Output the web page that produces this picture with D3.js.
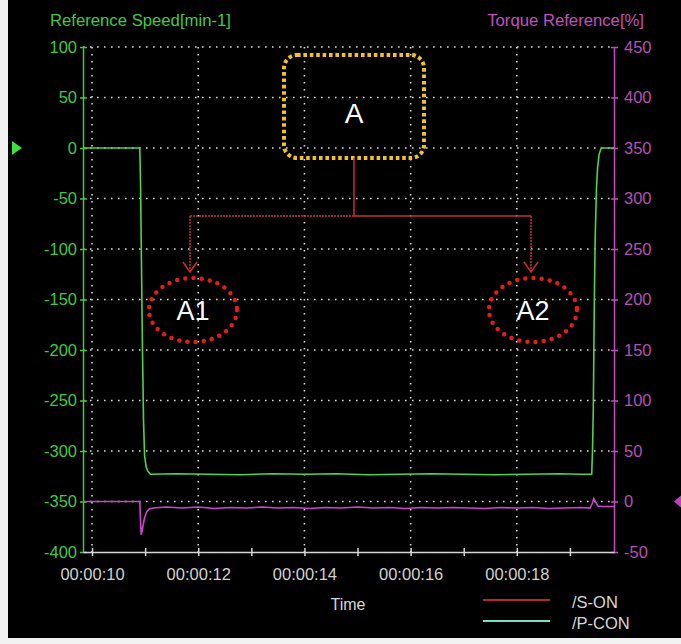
<!DOCTYPE html>
<html>
<head>
<meta charset="utf-8">
<script src="https://cdn.jsdelivr.net/npm/d3@7"></script>
<style>
  html, body { margin: 0; padding: 0; background: #f2f2f2; }
  svg { display: block; }
  text { font-family: "Liberation Sans", Arial, sans-serif; }
</style>
</head>
<body>
<svg id="chart" width="681" height="644"></svg>
<script>
// ---- data -------------------------------------------------------------
// time axis (seconds)
const timeDomain = [9.83, 19.83];
const timeTicks = [10, 11, 12, 13, 14, 15, 16, 17, 18, 19];
const timeLabelTicks = [10, 12, 14, 16, 18];

// left axis: reference speed [min-1]
const speedTicks = [100, 50, 0, -50, -100, -150, -200, -250, -300, -350, -400];
// right axis: torque reference [%]
const torqueTicks = [450, 400, 350, 300, 250, 200, 150, 100, 50, 0, -50];

// reference speed trace
const speedTime = [9.83, 10.90, 10.915, 10.93, 10.95, 10.97, 10.99, 11.02, 11.05, 11.10,
  11.6, 12.2, 12.8, 13.4, 14.0, 14.6, 15.2, 15.8, 16.4, 17.0, 17.6, 18.2, 18.8, 19.2,
  19.41, 19.425, 19.44, 19.46, 19.475, 19.50, 19.52, 19.55, 19.59, 19.83];
const speedValue = [0, 0, -40, -110, -200, -270, -305, -316, -320, -323,
  -322.5, -323, -323.5, -322.5, -323, -322.5, -323.5, -323, -322.5, -323, -323.5, -323, -322.5, -323,
  -323, -300, -260, -150, -90, -40, -20, -6, 0, 0];

// torque reference trace
const torqueTime = [9.83, 10.90, 10.91, 10.925, 10.94, 10.96, 10.99, 11.03, 11.08, 11.15,
  11.4, 11.7, 12.0, 12.3, 12.6, 12.9, 13.2, 13.5, 13.8, 14.1, 14.4, 14.7, 15.0, 15.3,
  15.6, 15.9, 16.2, 16.5, 16.8, 17.1, 17.4, 17.7, 18.0, 18.3, 18.6, 18.9, 19.2, 19.38,
  19.42, 19.45, 19.49, 19.53, 19.6, 19.83];
const torqueValue = [0, 0, -15, -33, -30, -24, -16, -10, -7.5, -6.5,
  -5.5, -6.5, -5.5, -7, -6, -6.5, -5.5, -6.5, -6, -7, -6, -6.5, -5.5, -6.5,
  -6, -7, -6, -6.5, -6, -6.5, -7, -6, -6.5, -6, -7, -6.5, -6, -6.5,
  -2, 3, -1, -4.5, -5, -5];

// legend entries
const legendNames = ["/S-ON", "/P-CON"];
const legendColors = ["#b8262a", "#78e0c8"];

// ---- layout -----------------------------------------------------------
const svg = d3.select("#chart");
const plot = { left: 83, right: 614, top: 47, bottom: 552 };

const x = d3.scaleLinear().domain(timeDomain).range([plot.left, plot.right]);
const ySpeed = d3.scaleLinear().domain([-400, 100]).range([plot.bottom, plot.top]);
const yTorque = d3.scaleLinear().domain([-50, 450]).range([plot.bottom, plot.top]);

const green = "#44c844";
const magenta = "#c04cc0";
const gridColor = "#d8d8d8";

// black panel
svg.append("rect").attr("x", 8).attr("y", 0).attr("width", 673).attr("height", 638)
  .attr("fill", "#000");

// ---- grid -------------------------------------------------------------
const grid = svg.append("g").attr("stroke", gridColor).attr("stroke-width", 1.6)
  .attr("stroke-dasharray", "1.6 5.4");
grid.selectAll("line.h").data(speedTicks.filter(d => d > -400)).join("line")
  .attr("class", "h")
  .attr("x1", plot.left).attr("x2", plot.right)
  .attr("y1", d => ySpeed(d)).attr("y2", d => ySpeed(d));
grid.selectAll("line.v").data(timeLabelTicks).join("line")
  .attr("class", "v")
  .attr("x1", d => x(d)).attr("x2", d => x(d))
  .attr("y1", plot.top).attr("y2", plot.bottom);

// ---- axes -------------------------------------------------------------
function styleAxis(g, color) {
  g.select(".domain").attr("stroke", color).attr("stroke-width", 1.5);
  g.selectAll(".tick line").attr("stroke", color).attr("stroke-width", 1.5);
  g.selectAll(".tick text").attr("fill", color).attr("font-size", 16.5)
    .attr("font-family", "'Liberation Sans', Arial, sans-serif");
}

const leftAxis = svg.append("g").attr("transform", `translate(${plot.left},0)`)
  .call(d3.axisLeft(ySpeed).tickValues(speedTicks).tickSize(4).tickSizeOuter(0)
    .tickPadding(2).tickFormat(d => String(d)));
styleAxis(leftAxis, green);
leftAxis.selectAll(".tick line").attr("x2", 4).attr("x1", -3);

const rightAxis = svg.append("g").attr("transform", `translate(${plot.right},0)`)
  .call(d3.axisRight(yTorque).tickValues(torqueTicks).tickSize(4).tickSizeOuter(0)
    .tickPadding(6).tickFormat(d => String(d)));
styleAxis(rightAxis, magenta);
rightAxis.selectAll(".tick line").attr("x1", -3).attr("x2", 4);
rightAxis.selectAll(".tick text").attr("fill", "#b650b6");

const pad = n => String(n).padStart(2, "0");
const bottomAxis = svg.append("g").attr("transform", `translate(0,${plot.bottom})`)
  .call(d3.axisBottom(x).tickValues(timeTicks).tickSize(4).tickSizeOuter(0)
    .tickPadding(12).tickFormat(d => timeLabelTicks.includes(d) ? `00:00:${pad(d)}` : ""));
styleAxis(bottomAxis, "#d6d6d6");
bottomAxis.selectAll(".tick line").attr("y1", -4).attr("y2", 4);
bottomAxis.selectAll(".tick text").attr("fill", "#d0d0d0");

// axis titles
svg.append("text").attr("x", 50).attr("y", 26).attr("fill", green)
  .attr("font-size", 16.7).text("Reference Speed[min-1]");
svg.append("text").attr("x", 644).attr("y", 26).attr("fill", "#c050c0")
  .attr("text-anchor", "end").attr("font-size", 16.7).text("Torque Reference[%]");
svg.append("text").attr("x", 348).attr("y", 610).attr("fill", "#d6d6d6")
  .attr("text-anchor", "middle").attr("font-size", 16).text("Time");

// cursor markers at the axis zero levels
svg.append("path").attr("fill", "#3ee03e")
  .attr("d", `M12,${ySpeed(0) - 7}L22,${ySpeed(0)}L12,${ySpeed(0) + 7}Z`);
svg.append("path").attr("fill", "#c040c0")
  .attr("d", `M674,${yTorque(0)}L681,${yTorque(0) - 6}L681,${yTorque(0) + 6}Z`);

// ---- traces -----------------------------------------------------------
const speedLine = d3.line().x((d, i) => x(speedTime[i])).y(d => ySpeed(d));
svg.append("path").datum(speedValue).attr("d", speedLine)
  .attr("fill", "none").attr("stroke", "#52d052").attr("stroke-width", 1.6);

const torqueLine = d3.line().x((d, i) => x(torqueTime[i])).y(d => yTorque(d));
svg.append("path").datum(torqueValue).attr("d", torqueLine)
  .attr("fill", "none").attr("stroke", "#cc44cc").attr("stroke-width", 1.6);

// ---- legend -----------------------------------------------------------
const legend = svg.append("g");
legendNames.forEach((name, i) => {
  const ly = 600 + i * 21;
  legend.append("line").attr("x1", 483).attr("x2", 550).attr("y1", ly).attr("y2", ly)
    .attr("stroke", legendColors[i]).attr("stroke-width", 2);
  legend.append("text").attr("x", 572).attr("y", ly + 8).attr("fill", "#d6d6d6")
    .attr("font-size", 16.5).text(name);
});

// ---- annotations ------------------------------------------------------
const ann = svg.append("g");
// group box A
ann.append("rect").attr("x", 284).attr("y", 55).attr("width", 140).attr("height", 103)
  .attr("rx", 13).attr("ry", 13).attr("fill", "none")
  .attr("stroke", "#f2c12a").attr("stroke-width", 4).attr("stroke-dasharray", "3.6 2.8");
ann.append("text").attr("x", 354).attr("y", 123).attr("text-anchor", "middle")
  .attr("fill", "#ffffff").attr("font-size", 28).text("A");

// connector from A to A1 / A2
const red = "#c8302c";
ann.append("line").attr("x1", 354).attr("x2", 354).attr("y1", 158).attr("y2", 216)
  .attr("stroke", red).attr("stroke-width", 1.5);
ann.append("line").attr("x1", 190).attr("x2", 354).attr("y1", 216).attr("y2", 216)
  .attr("stroke", red).attr("stroke-width", 1.5).attr("stroke-dasharray", "2 1");
ann.append("line").attr("x1", 354).attr("x2", 531).attr("y1", 216).attr("y2", 216)
  .attr("stroke", red).attr("stroke-width", 1.5);
[190, 531].forEach(ax => {
  ann.append("line").attr("x1", ax).attr("x2", ax).attr("y1", 216).attr("y2", 272)
    .attr("stroke", red).attr("stroke-width", 1.5).attr("stroke-dasharray", "2 1");
  ann.append("path").attr("d", `M${ax - 7},${262}L${ax},${272}L${ax + 7},${262}`)
    .attr("fill", "none").attr("stroke", red).attr("stroke-width", 1.5);
});

// target ellipses A1 / A2
[[193, "A1"], [533, "A2"]].forEach(([cx, label]) => {
  ann.append("ellipse").attr("cx", cx).attr("cy", 310).attr("rx", 44).attr("ry", 32)
    .attr("fill", "none").attr("stroke", "#e41c1c").attr("stroke-width", 4.5)
    .attr("stroke-linecap", "round").attr("stroke-dasharray", "0 8.2");
  ann.append("text").attr("x", cx).attr("y", 320).attr("text-anchor", "middle")
    .attr("fill", "#ffffff").attr("font-size", 27).text(label);
});
</script>
</body>
</html>
